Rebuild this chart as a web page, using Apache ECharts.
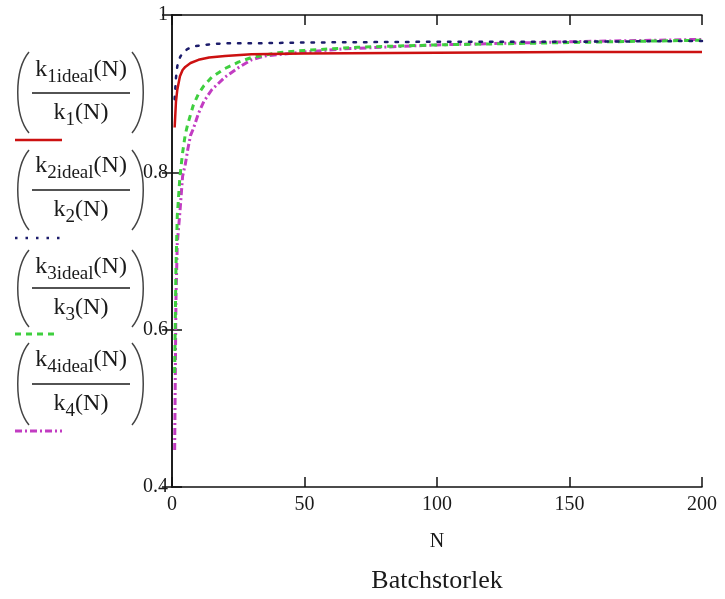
<!DOCTYPE html>
<html><head><meta charset="utf-8">
<script src="https://cdn.jsdelivr.net/npm/echarts@6/dist/echarts.min.js"></script>
<style>html,body{margin:0;padding:0;background:#fff}#c{width:725px;height:599px}</style>
</head><body><div id="c"></div>
<script>
// ---- data ----
const X_TICKS = [0, 50, 100, 150, 200];
const Y_TICKS = [0.4, 0.6, 0.8, 1];
const X_LABEL = 'N';
const SUBTITLE = 'Batchstorlek';
const SERIES_IDX = ['1', '2', '3', '4'];

const N_K1 = [1, 1.5, 2, 3, 4, 5, 7, 10, 14, 20, 30, 50, 100, 150, 200];
const K1   = [0.857, 0.89, 0.905, 0.922, 0.93, 0.934, 0.939, 0.943, 0.946, 0.948, 0.95, 0.951, 0.952, 0.953, 0.953];

const N_K2 = [1, 1.5, 2, 3, 4, 6, 8, 10, 15, 20, 30, 50, 100, 150, 200];
const K2   = [0.893, 0.92, 0.935, 0.946, 0.952, 0.957, 0.96, 0.961, 0.963, 0.964, 0.964, 0.965, 0.966, 0.966, 0.967];

const N_K3 = [1, 1.5, 2, 3, 4, 5, 6, 8, 10, 12, 15, 20, 25, 30, 40, 50, 70, 100, 150, 200];
const K3   = [0.545, 0.68, 0.745, 0.795, 0.825, 0.848, 0.862, 0.885, 0.9, 0.91, 0.921, 0.932, 0.94, 0.946, 0.952, 0.955, 0.959, 0.962, 0.965, 0.968];

const N_K4 = [1, 1.5, 2, 3, 4, 5, 6, 7, 8, 10, 12, 15, 20, 25, 30, 35, 50, 65, 100, 150, 200];
const K4   = [0.447, 0.64, 0.71, 0.75, 0.795, 0.81, 0.83, 0.847, 0.855, 0.875, 0.89, 0.905, 0.921, 0.933, 0.943, 0.948, 0.953, 0.957, 0.962, 0.966, 0.969];

// ---- styles ----
const SERIF = '"Liberation Serif","DejaVu Serif",serif';
const COLORS = ['#cc1111', '#1c1c6b', '#3fcf3f', '#c23cc2'];
const DASHES = ['solid', [2.5, 8], [6, 5], [7, 3, 2, 3]];
const WIDTHS = [2.5, 2.5, 3, 3];

const chart = echarts.init(document.getElementById('c'), null, {renderer: 'canvas'});

function pairs(xs, ys) { return xs.map((x, i) => [x, ys[i]]); }
const seriesData = [pairs(N_K1, K1), pairs(N_K2, K2), pairs(N_K3, K3), pairs(N_K4, K4)];

const ctx = document.createElement('canvas').getContext('2d');
function tw(txt, size) { ctx.font = size + 'px ' + SERIF; return ctx.measureText(txt).width; }

const MAIN = 24, SUB = 19, INK = '#1a1a1a';
const BLOCKS = [
  {num: 70, bar: 93, den: 113, pt: 52, pb: 133, s: 140},
  {num: 166, bar: 190, den: 210, pt: 150, pb: 230, s: 238},
  {num: 267, bar: 288, den: 308, pt: 250, pb: 327, s: 334},
  {num: 360, bar: 384, den: 404, pt: 343, pb: 425, s: 431}
];

function pieceRow(parts, cx, cy) {
  const widths = parts.map(p => tw(p.t, p.sub ? SUB : MAIN));
  const total = widths.reduce((a, b) => a + b, 0);
  let x = cx - total / 2;
  const els = [];
  parts.forEach((p, i) => {
    els.push({type: 'text', x: x, y: cy + (p.sub ? 7 : 0),
      style: {text: p.t, font: (p.sub ? SUB : MAIN) + 'px ' + SERIF, fill: INK,
              textAlign: 'left', textVerticalAlign: 'middle', verticalAlign: 'middle'}});
    x += widths[i];
  });
  return els;
}

const graphics = [];
SERIES_IDX.forEach((idx, i) => {
  const b = BLOCKS[i];
  const cx = 81;
  graphics.push(...pieceRow([{t: 'k'}, {t: idx + 'ideal', sub: true}, {t: '(N)'}], cx, b.num));
  graphics.push(...pieceRow([{t: 'k'}, {t: idx, sub: true}, {t: '(N)'}], cx, b.den));
  graphics.push({type: 'line', shape: {x1: 32, y1: b.bar, x2: 130, y2: b.bar}, style: {stroke: INK, lineWidth: 1.3}});
  graphics.push({type: 'bezierCurve', shape: {x1: 29, y1: b.pt, cpx1: 14, cpy1: b.pt + 18, cpx2: 14, cpy2: b.pb - 18, x2: 29, y2: b.pb},
    style: {stroke: '#444', lineWidth: 1.5, fill: null}});
  graphics.push({type: 'bezierCurve', shape: {x1: 132, y1: b.pt, cpx1: 147, cpy1: b.pt + 18, cpx2: 147, cpy2: b.pb - 18, x2: 132, y2: b.pb},
    style: {stroke: '#444', lineWidth: 1.5, fill: null}});
  graphics.push({type: 'line', shape: {x1: 15, y1: b.s, x2: i === 2 ? 55 : 62, y2: b.s},
    style: {stroke: COLORS[i], lineWidth: WIDTHS[i], lineDash: DASHES[i] === 'solid' ? null : DASHES[i]}});
});
graphics.push({type: 'text', x: 437, y: 581, style: {text: SUBTITLE, font: '26px ' + SERIF, fill: INK, textAlign: 'center', textVerticalAlign: 'middle', verticalAlign: 'middle'}});

const yFmt = v => (v === 1 ? '1' : v.toFixed(1));
const axisCommon = {
  type: 'value', splitLine: {show: false},
  axisLine: {show: true, lineStyle: {color: '#111', width: 1.5}},
  axisTick: {show: true, inside: true, length: 10, lineStyle: {color: '#111', width: 1.5}}
};

chart.setOption({
  animation: false,
  backgroundColor: '#fff',
  grid: {left: 172, right: 23, top: 15, bottom: 112, containLabel: false},
  xAxis: [
    Object.assign({}, axisCommon, {position: 'bottom', min: X_TICKS[0], max: X_TICKS[X_TICKS.length - 1], interval: X_TICKS[1] - X_TICKS[0],
      name: X_LABEL, nameLocation: 'middle', nameGap: 45, nameTextStyle: {fontFamily: SERIF, fontSize: 20, color: INK},
      axisLabel: {fontFamily: SERIF, fontSize: 20, color: INK, margin: 8, showMinLabel: true, showMaxLabel: true}}),
    Object.assign({}, axisCommon, {position: 'top', min: X_TICKS[0], max: X_TICKS[X_TICKS.length - 1], interval: X_TICKS[1] - X_TICKS[0],
      axisLabel: {show: false}})
  ],
  yAxis: [
    Object.assign({}, axisCommon, {position: 'left', min: Y_TICKS[0], max: Y_TICKS[Y_TICKS.length - 1], interval: 0.2,
      axisLabel: {fontFamily: SERIF, fontSize: 20, color: INK, margin: 4, formatter: yFmt}}),
    Object.assign({}, axisCommon, {position: 'right', min: Y_TICKS[0], max: Y_TICKS[Y_TICKS.length - 1], interval: 0.2,
      axisLabel: {show: false}})
  ],
  series: seriesData.map((d, i) => ({
    type: 'line', data: d, xAxisIndex: 0, yAxisIndex: 0, symbol: 'none', smooth: false,
    lineStyle: {color: COLORS[i], width: WIDTHS[i], type: DASHES[i], cap: i === 1 ? 'round' : 'butt'},
    z: 10 - i
  })),
  graphic: graphics
});
</script></body></html>
